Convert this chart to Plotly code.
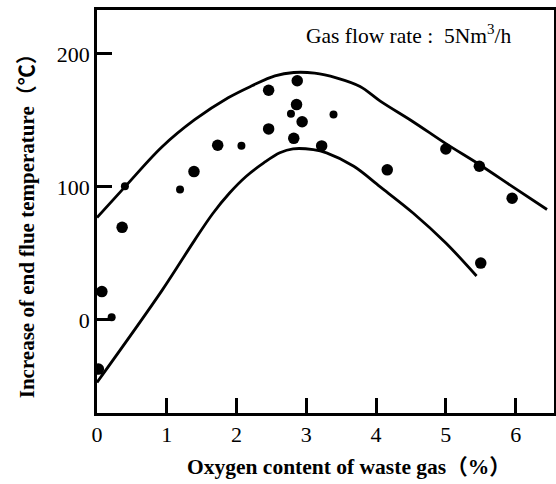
import plotly.graph_objects as go

# Measured data points (oxygen %, temperature increase °C)
pts_x_big = [0.36, 0.07, 0.02, 1.39, 1.73, 2.46, 2.46, 2.87, 2.86, 2.94, 2.82, 3.22, 4.16, 5.00, 5.48, 5.95, 5.50]
pts_y_big = [69.6, 21.3, -37.0, 111.5, 131.3, 172.7, 143.6, 179.8, 161.9, 149.0, 136.5, 130.8, 112.8, 128.5, 115.5, 91.5, 42.7]
pts_x_small = [0.40, 1.19, 2.07, 3.39, 0.21, 2.78]
pts_y_small = [100.4, 98.0, 131.0, 154.4, 2.0, 155.0]

# Upper envelope curve
upper_x = [0.0, 0.40, 0.93, 1.40, 1.88, 2.22, 2.55, 2.82, 3.12, 3.43, 3.77, 4.06, 4.53, 5.00, 5.49, 5.96, 6.45]
upper_y = [77.0, 100.0, 130.0, 150.5, 167.0, 176.0, 183.5, 186.0, 185.5, 182.0, 175.5, 164.5, 149.0, 132.5, 116.5, 100.0, 83.0]

# Lower envelope curve
lower_x = [0.0, 0.93, 1.40, 1.66, 1.90, 2.14, 2.39, 2.62, 2.81, 3.10, 3.29, 3.68, 4.06, 4.53, 5.00, 5.44]
lower_y = [-47.0, 22.0, 60.0, 80.0, 95.4, 108.0, 118.0, 125.6, 128.6, 128.0, 125.6, 115.5, 100.0, 80.4, 57.8, 33.0]

x_ticks = [0, 1, 2, 3, 4, 5, 6]
y_ticks = [0, 100, 200]

FONT = "Liberation Serif, Times New Roman, Noto Sans CJK SC, serif"

fig = go.Figure()
fig.add_trace(go.Scatter(x=upper_x, y=upper_y, mode="lines",
                         line=dict(color="black", width=2.8, shape="spline", smoothing=1.0)))
fig.add_trace(go.Scatter(x=lower_x, y=lower_y, mode="lines",
                         line=dict(color="black", width=2.8, shape="spline", smoothing=1.0)))
fig.add_trace(go.Scatter(x=pts_x_big, y=pts_y_big, mode="markers",
                         marker=dict(color="black", size=11.5)))
fig.add_trace(go.Scatter(x=pts_x_small, y=pts_y_small, mode="markers",
                         marker=dict(color="black", size=8)))

fig.update_layout(
    width=556, height=484,
    margin=dict(l=97, r=2, t=10, b=71),
    paper_bgcolor="white", plot_bgcolor="white",
    showlegend=False,
    font=dict(family=FONT, color="black", size=22),
    xaxis=dict(range=[0, 6.55], tickvals=x_ticks, ticks="inside", ticklen=15, tickwidth=2.5,
               tickcolor="black", showline=True, linecolor="black", linewidth=2.5, mirror=True,
               showgrid=False, zeroline=False, tickfont=dict(size=22), automargin=False),
    yaxis=dict(range=[-70, 233], tickvals=y_ticks, ticks="inside", ticklen=15, tickwidth=2.5,
               tickcolor="black", showline=True, linecolor="black", linewidth=2.5, mirror=True,
               showgrid=False, zeroline=False, tickfont=dict(size=22), automargin=False),
)

# Axis titles placed as annotations
fig.add_annotation(text="<b>Oxygen content of waste gas（%）</b>", xref="paper", yref="paper",
                   x=0.551, y=-0.134, xanchor="center", yanchor="middle", showarrow=False,
                   font=dict(size=21.5, family=FONT))
fig.add_annotation(text="<b>Increase of end flue temperature（℃）</b>", xref="paper", yref="paper",
                   x=-0.153, y=0.476, xanchor="center", yanchor="middle", showarrow=False,
                   textangle=-90, font=dict(size=21, family=FONT))

fig.add_annotation(text="Gas flow rate :  5Nm<sup>3</sup>/h", xref="paper", yref="paper",
                   x=0.453, y=0.94, xanchor="left", yanchor="middle", showarrow=False,
                   font=dict(size=21.5, family=FONT))

fig.write_html("out.html", config={"displayModeBar": False},
               post_script="document.body.style.margin='0';")
